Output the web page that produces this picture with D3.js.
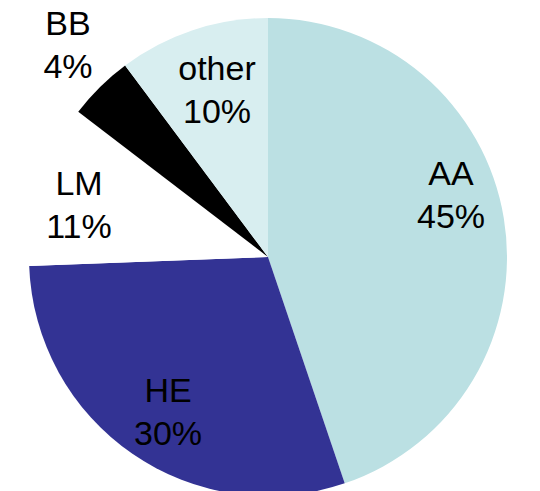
<!DOCTYPE html>
<html>
<head>
<meta charset="utf-8">
<script src="https://cdn.jsdelivr.net/npm/d3@7"></script>
<style>
  body { margin: 0; background: #fff; }
  svg { display: block; }
  text { font-family: "Liberation Sans", Arial, sans-serif; font-size: 34px; fill: #000; }
</style>
</head>
<body>
<svg width="540" height="491"></svg>
<script>
// shares, clockwise from 12 o'clock
var categories = ["AA", "HE", "LM", "BB", "other"];
var shares = [44.8, 29.6, 11.0, 4.4, 10.2];
var colors = ["#bbe0e3", "#333394", "#ffffff", "#000000", "#d8eef0"];

// where each label block sits (baseline of first line), hand placed like the original
var labelPos = [[451, 185], [168, 402], [79, 195], [68, 35], [217, 80]];

var svg = d3.select("svg"),
    cx = 268, cy = 257, radius = 239, lineGap = 43;

var data = categories.map(function(c, i) {
    return { name: c, value: shares[i], color: colors[i], pos: labelPos[i] };
});

var pie = d3.pie().sort(null).value(function(d) { return d.value; });
var arc = d3.arc().innerRadius(0).outerRadius(radius);

var g = svg.append("g").attr("transform", "translate(" + cx + "," + cy + ")");

g.selectAll("path")
    .data(pie(data))
    .enter().append("path")
    .attr("d", arc)
    .attr("fill", function(d) { return d.data.color; });

var labels = svg.selectAll(".label")
    .data(data)
    .enter().append("text")
    .attr("class", "label")
    .attr("text-anchor", "middle")
    .attr("transform", function(d) { return "translate(" + d.pos[0] + "," + d.pos[1] + ")"; });

labels.append("tspan").attr("x", 0).attr("y", 0).text(function(d) { return d.name; });
labels.append("tspan").attr("x", 0).attr("y", lineGap)
    .text(function(d) { return Math.round(d.value) + "%"; });
</script>
</body>
</html>
